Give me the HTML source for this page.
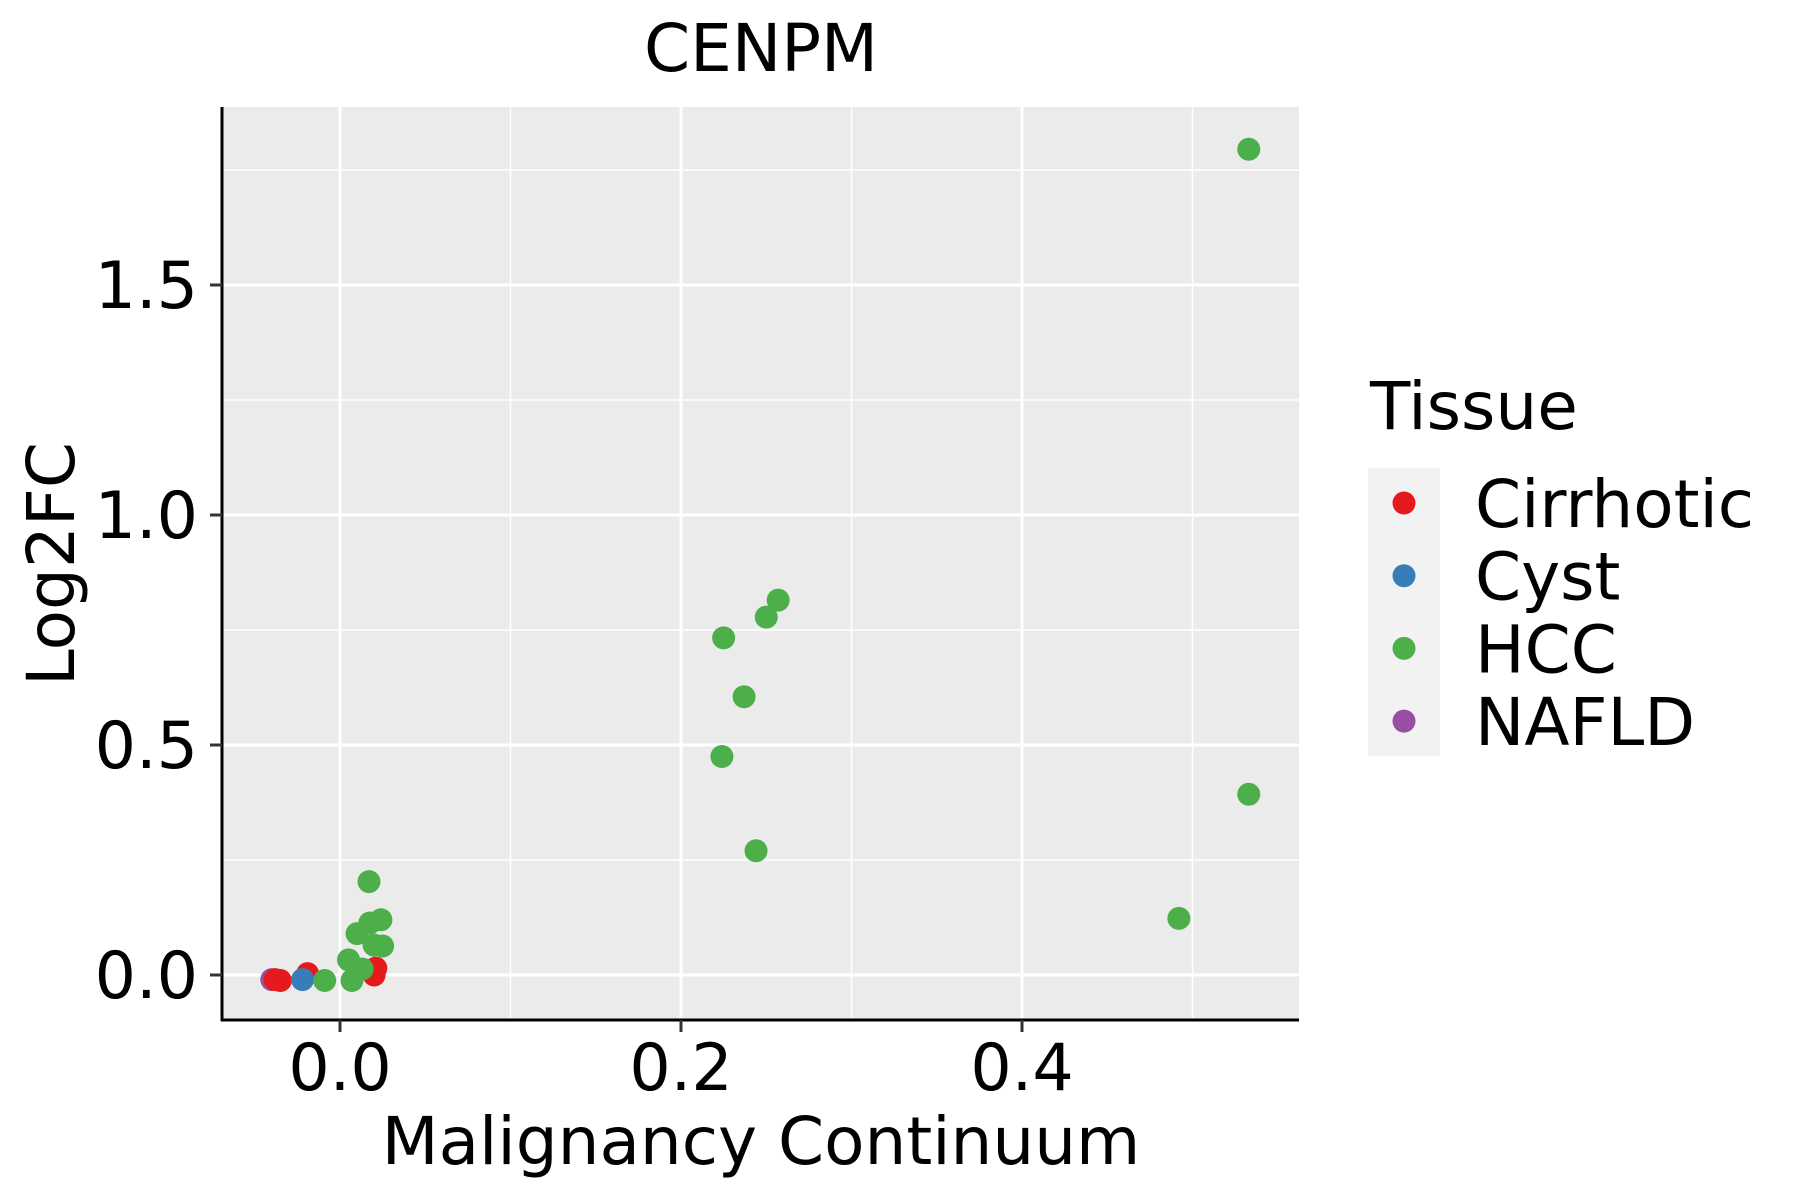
<!DOCTYPE html>
<html><head><meta charset="utf-8"><style>body{margin:0;background:#fff}svg{display:block;font-family:"DejaVu Sans","Liberation Sans",sans-serif}</style></head>
<body>
<svg id="chart" width="1800" height="1200" viewBox="0 0 1800 1200" xmlns="http://www.w3.org/2000/svg">
<rect x="222" y="107" width="1077" height="913" fill="#ebebeb"/>
<g id="grid"></g>
<g id="points"></g>
<line x1="222" y1="107" x2="222" y2="1021" stroke="#000" stroke-width="3"/>
<line x1="221" y1="1020" x2="1299" y2="1020" stroke="#000" stroke-width="3"/>
<g id="ticks"></g>
<text x="761" y="71" font-size="66" text-anchor="middle">CENPM</text>
<text x="761" y="1164" font-size="66" text-anchor="middle">Malignancy Continuum</text>
<text transform="translate(74,564) rotate(-90)" font-size="66" text-anchor="middle">Log2FC</text>
<g>
<text x="1370" y="429" font-size="66">Tissue</text>
<rect x="1368" y="468" width="72" height="288" fill="#f2f2f2"/>
<g id="legend-entries"></g>
</g>
</svg>
<script>
const categories = ["Cirrhotic","Cyst","HCC","NAFLD"];
const colors = ["#e41a1c","#377eb8","#4daf4a","#984ea3"];
const xTicks = [0.0, 0.2, 0.4];
const xTickLabels = ["0.0","0.2","0.4"];
const yTicks = [0.0, 0.5, 1.0, 1.5];
const yTickLabels = ["0.0","0.5","1.0","1.5"];
const xMinor = [0.1, 0.3, 0.5];
const yMinor = [0.25, 0.75, 1.25, 1.75];
const nafldX = [-0.040];
const nafldY = [-0.010];
const cirrX = [-0.019, -0.035, -0.038, 0.021, 0.020];
const cirrY = [0.003, -0.012, -0.010, 0.015, 0.000];
const cystX = [-0.022];
const cystY = [-0.010];
const hccX = [0.533, 0.533, 0.492, 0.257, 0.250, 0.225, 0.237, 0.224, 0.244, 0.017, 0.024, 0.0175, 0.010, 0.025, 0.020, 0.005, 0.013, 0.007, -0.009];
const hccY = [1.795, 0.393, 0.123, 0.815, 0.778, 0.733, 0.605, 0.475, 0.270, 0.203, 0.120, 0.113, 0.090, 0.063, 0.065, 0.033, 0.013, -0.012, -0.012];

const NS = "http://www.w3.org/2000/svg";
const sx = v => 340 + v * 1705;
const sy = v => 975 - v * 460;
function mk(tag, attrs, parent){const e=document.createElementNS(NS,tag);for(const k in attrs)e.setAttribute(k,attrs[k]);parent.appendChild(e);return e;}
const grid=document.getElementById('grid'), ticks=document.getElementById('ticks'), pts=document.getElementById('points'), leg=document.getElementById('legend-entries');
xMinor.forEach(v=>{const l=mk('line',{x1:sx(v),x2:sx(v),y1:107,y2:1020,stroke:'#fff','stroke-width':1.5},grid);

});
yMinor.forEach(v=>{const l=mk('line',{x1:222,x2:1299,y1:sy(v),y2:sy(v),stroke:'#fff','stroke-width':1.5},grid);

});
xTicks.forEach((v,i)=>{const l=mk('line',{x1:sx(v),x2:sx(v),y1:107,y2:1020,stroke:'#fff','stroke-width':3},grid);


const t=mk('line',{x1:sx(v),x2:sx(v),y1:1020,y2:1032,stroke:'#333','stroke-width':3},ticks);


const tx=mk('text',{x:sx(v),y:1090,'font-size':65,'text-anchor':'middle'},ticks);tx.textContent=xTickLabels[i];

});
yTicks.forEach((v,i)=>{const l=mk('line',{x1:222,x2:1299,y1:sy(v),y2:sy(v),stroke:'#fff','stroke-width':3},grid);


const t=mk('line',{x1:210,x2:222,y1:sy(v),y2:sy(v),stroke:'#333','stroke-width':3},ticks);


const tx=mk('text',{x:198,y:sy(v)+23,'font-size':65,'text-anchor':'end'},ticks);tx.textContent=yTickLabels[i];

});
function series(xs,ys,ci){xs.forEach((x,i)=>{const c=mk('circle',{cx:sx(x),cy:sy(ys[i]),r:11.5,fill:colors[ci]},pts);

});}
series(nafldX,nafldY,3);series(cirrX,cirrY,0);series(cystX,cystY,1);series(hccX,hccY,2);
categories.forEach((c,i)=>{const cy=503+i*72.7;
const d=mk('circle',{cx:1404,cy:cy,r:11.5,fill:colors[i]},leg);


const t=mk('text',{x:1475,y:cy+24,'font-size':66},leg);t.textContent=c;

});
</script>
</body></html>
